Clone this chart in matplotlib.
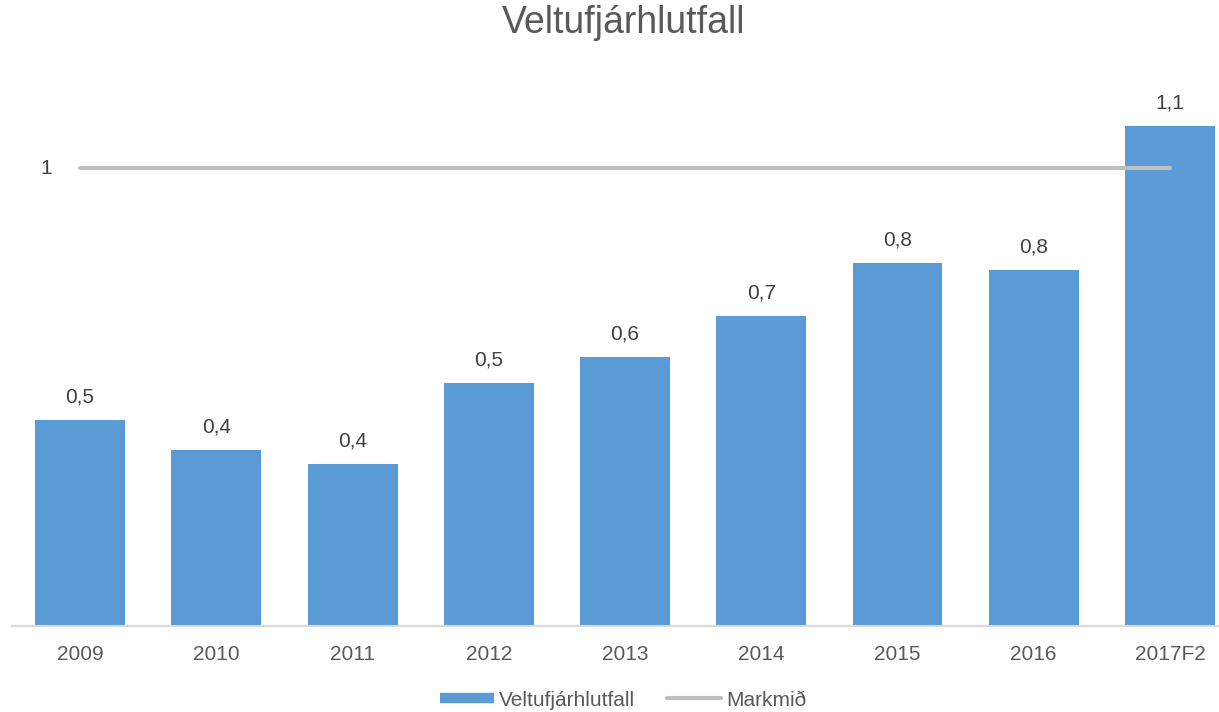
import matplotlib
matplotlib.use("Agg")
import matplotlib.pyplot as plt
from matplotlib.lines import Line2D

categories = ["2009", "2010", "2011", "2012", "2013", "2014", "2015", "2016", "2017F2"]
ratio = [0.45, 0.384, 0.354, 0.531, 0.587, 0.677, 0.793, 0.777, 1.092]
target = [1, 1, 1, 1, 1, 1, 1, 1, 1]
series_names = ["Veltufjárhlutfall", "Markmið"]
title = "Veltufjárhlutfall"

plt.rcParams['font.family'] = ['Liberation Sans', 'DejaVu Sans']
txt = "#595959"
bar_c = "#5B9BD5"
line_c = "#BFBFBF"

W, H = 1219, 712
fig = plt.figure(figsize=(W / 100, H / 100), dpi=100)
ax = fig.add_axes([12 / W, 86 / H, (W - 12) / W, 549.6 / H])

x = list(range(len(categories)))
ax.bar(x, ratio, width=0.66, color=bar_c, zorder=2)
ax.plot(x, target, color=line_c, linewidth=3.0, solid_capstyle='round', zorder=3)

ax.set_xlim(-0.5, 8.36)
ax.set_ylim(0, 1.2)

for xi, v in zip(x, ratio):
    ax.annotate(f"{v:.1f}".replace('.', ','), (xi, v), xytext=(0, 9.5),
                textcoords='offset points', ha='center', va='bottom',
                fontsize=15, color="#404040")
ax.annotate(f"{target[0]}", (x[0], target[0]), xytext=(-20, 0),
            textcoords='offset points', ha='right', va='center',
            fontsize=15, color="#404040")

ax.set_xticks(x)
ax.set_xticklabels(categories, fontsize=15, color=txt)
ax.tick_params(axis='x', length=0, pad=14)
ax.set_yticks([])
for s in ['left', 'right', 'top']:
    ax.spines[s].set_visible(False)
ax.spines['bottom'].set_color("#D9D9D9")
ax.spines['bottom'].set_linewidth(1.5)

fig.text(624 / W, 1 - 23 / H, title, ha='center', va='center', fontsize=27, color=txt)

handles = [Line2D([0], [0], color=bar_c, linewidth=7.5, solid_capstyle='butt'),
           Line2D([0], [0], color=line_c, linewidth=3.0, solid_capstyle='round')]
fig.legend(handles, series_names, loc='center', bbox_to_anchor=(623 / W, 1 - 700 / H),
           ncol=2, frameon=False, fontsize=15, handlelength=2.6, handletextpad=0.25,
           columnspacing=1.5, labelcolor=txt)

fig.savefig("out.png", dpi=100)
